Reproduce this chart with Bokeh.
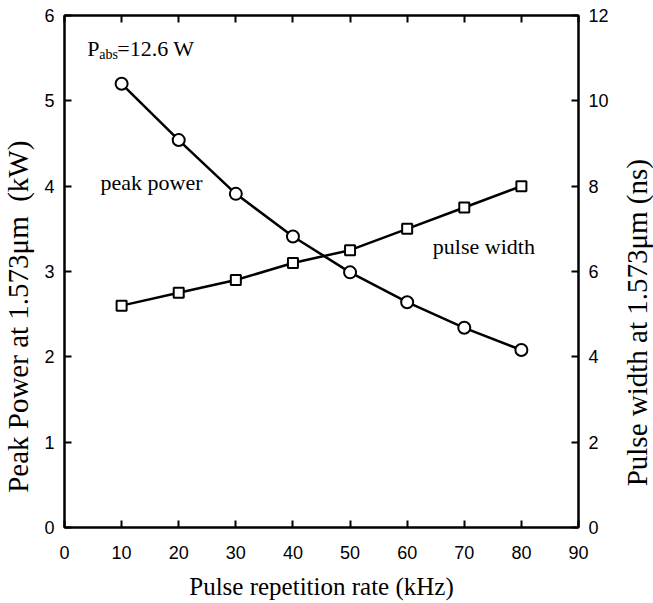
import math
from bokeh.plotting import figure
from bokeh.layouts import row
from bokeh.models import Range1d, LinearAxis, Label, FixedTicker
from bokeh.core.properties import value
from bokeh.embed import file_html
from bokeh.resources import INLINE

# ---- data ----
rate_khz = [10, 20, 30, 40, 50, 60, 70, 80]
peak_power_kw = [5.20, 4.54, 3.91, 3.41, 2.99, 2.64, 2.34, 2.08]
pulse_width_ns = [5.2, 5.5, 5.8, 6.2, 6.5, 7.0, 7.5, 8.0]
x_ticks = [0, 10, 20, 30, 40, 50, 60, 70, 80, 90]
left_ticks = [0, 1, 2, 3, 4, 5, 6]
right_ticks = [0, 2, 4, 6, 8, 10, 12]
left_title = "Peak Power at 1.573\u03bcm\u00a0\u00a0(kW)"
right_title = "Pulse width at 1.573\u03bcm (ns)"

SERIF = "Liberation Serif"
SANS = "Liberation Sans"

TOTAL_H = 603
LEFT_W = 36
RIGHT_W = 35
MAIN_W = 653 - LEFT_W - RIGHT_W
BORDER_TOP = 15
BORDER_BOTTOM = 76

p = figure(width=MAIN_W, height=TOTAL_H, output_backend="svg", toolbar_location=None,
           x_range=Range1d(0, 90), y_range=Range1d(0, 6), title=None,
           min_border_left=64 - LEFT_W, min_border_right=MAIN_W + LEFT_W - 578,
           min_border_top=BORDER_TOP, min_border_bottom=BORDER_BOTTOM)
p.extra_y_ranges = {"pw": Range1d(0, 12)}
p.grid.visible = False
p.outline_line_color = "black"
p.outline_line_width = 2
p.background_fill_color = "white"
p.border_fill_color = "white"


def style(ax, ticks):
    ax.ticker = FixedTicker(ticks=ticks)
    ax.axis_line_color = "black"
    ax.axis_line_width = 2
    ax.major_tick_line_color = "black"
    ax.major_tick_line_width = 2
    ax.major_tick_in = 7
    ax.major_tick_out = 0
    ax.minor_tick_line_color = None
    ax.major_label_text_font = SANS
    ax.major_label_text_font_size = "18px"
    ax.major_label_text_color = "black"
    ax.axis_label_text_font = SERIF
    ax.axis_label_text_font_size = "25px"
    ax.axis_label_text_font_style = "normal"
    ax.axis_label_text_color = "black"


xb = p.xaxis[0]
style(xb, x_ticks)
xb.axis_label = "Pulse repetition rate (kHz)"
xb.major_label_standoff = 18
xb.axis_label_standoff = 11

yl = p.yaxis[0]
style(yl, left_ticks)
yl.major_label_standoff = 10

yr = LinearAxis(y_range_name="pw")
style(yr, right_ticks)
yr.major_label_standoff = 10
p.add_layout(yr, "right")

xt = LinearAxis()
style(xt, x_ticks)
xt.major_label_overrides = {t: "" for t in x_ticks}
xt.major_label_text_font_size = "1px"
xt.major_label_standoff = 0
p.add_layout(xt, "above")

# ---- series ----
p.line(rate_khz, peak_power_kw, line_color="black", line_width=2.5)
p.scatter(rate_khz, peak_power_kw, marker="circle", size=12,
          fill_color="white", line_color="black", line_width=2)

p.line(rate_khz, pulse_width_ns, line_color="black", line_width=2.5,
       y_range_name="pw")
p.scatter(rate_khz, pulse_width_ns, marker="square", size=10,
          fill_color="white", line_color="black", line_width=2,
          y_range_name="pw")

# ---- annotations ----
def lab(x, y, text, size, xo=0, yo=0):
    p.add_layout(Label(x=x, y=y, text=text, x_offset=xo, y_offset=yo,
                       text_font=SERIF, text_font_size=size,
                       text_color="black", text_baseline="alphabetic",
                       text_align="left"))

lab(4.0, 5.61, "P", "22px")
lab(4.0, 5.61, "abs", "14px", xo=12, yo=-6)
lab(4.0, 5.61, "=12.6 W", "22px", xo=30)
lab(6.3, 4.04, "peak power", "22px")
lab(64.5, 3.29, "pulse width", "22px")


# ---- vertical axis titles in narrow side panels (read bottom to top) ----
# side panels share the main plot's vertical scale (same borders, same y range)
def side_panel(w, text, cx, cy):
    q = figure(width=w, height=TOTAL_H, output_backend="svg", toolbar_location=None,
               x_range=Range1d(0, w), y_range=Range1d(0, 6), title=None,
               x_axis_location=None, y_axis_location=None,
               min_border_left=0, min_border_right=0,
               min_border_top=BORDER_TOP, min_border_bottom=BORDER_BOTTOM)
    q.grid.visible = False
    q.outline_line_color = None
    q.background_fill_color = "white"
    q.border_fill_color = "white"
    q.text(x=[cx], y=[cy], text=[text], angle=math.pi / 2,
           text_align="center", text_baseline="middle",
           text_font=value(SERIF), text_font_size=value("29px"),
           text_color="black")
    return q


ql = side_panel(LEFT_W, left_title, 17, 2.47)
qr = side_panel(RIGHT_W, right_title, 18, 2.40)

layout = row(ql, p, qr, spacing=0)
open("out.html", "w").write(file_html(layout, INLINE))
